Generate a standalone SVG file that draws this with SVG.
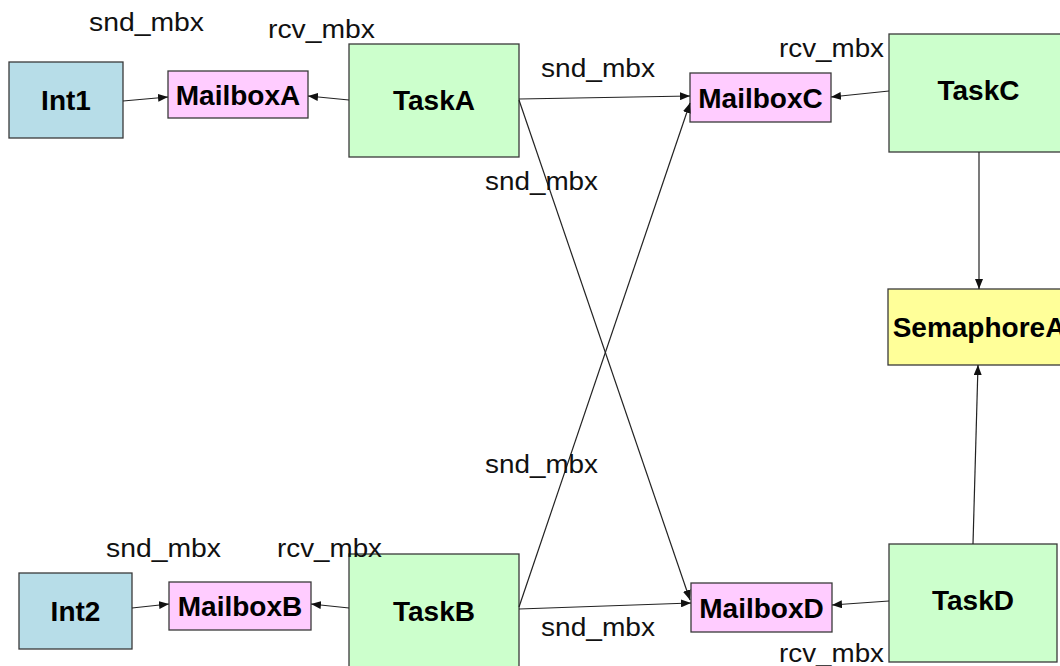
<svg xmlns="http://www.w3.org/2000/svg" width="1060" height="666" viewBox="0 0 1060 666">
  <style>
    .box { stroke: #3a3a3a; stroke-width: 1.3; }
    .int { fill: #b7dde8; }
    .mbx { fill: #ffccff; }
    .task { fill: #ccffcc; }
    .sem { fill: #ffff99; }
    .name { font-family: "Liberation Sans", Arial, sans-serif; font-weight: bold; font-size: 28px; fill: #000; text-anchor: middle; }
    .lbl { font-family: "Liberation Sans", Arial, sans-serif; font-size: 26px; fill: #111; }
    .conn line { stroke: #222; stroke-width: 1.2; marker-end: url(#arrow); }
  </style>
  <defs>
    <marker id="arrow" markerUnits="userSpaceOnUse" markerWidth="10" markerHeight="8" refX="10" refY="4" orient="auto">
      <path d="M0,0 L10,4 L0,8 z" fill="#111"/>
    </marker>
  </defs>
  <rect width="1060" height="666" fill="#ffffff"/>

  <!-- interrupt sources -->
  <g id="int1">
    <rect class="box int" x="9" y="62" width="114" height="76"/>
    <text class="name" x="66" y="110">Int1</text>
  </g>
  <g id="int2">
    <rect class="box int" x="19" y="573" width="113" height="76"/>
    <text class="name" x="75.5" y="621">Int2</text>
  </g>

  <!-- mailboxes -->
  <g id="mailboxA">
    <rect class="box mbx" x="168" y="71" width="140" height="47"/>
    <text class="name" x="238" y="104.5">MailboxA</text>
  </g>
  <g id="mailboxB">
    <rect class="box mbx" x="169" y="582" width="142" height="48"/>
    <text class="name" x="240" y="616">MailboxB</text>
  </g>
  <g id="mailboxC">
    <rect class="box mbx" x="690" y="73" width="141" height="49"/>
    <text class="name" x="760.5" y="107.5">MailboxC</text>
  </g>
  <g id="mailboxD">
    <rect class="box mbx" x="691" y="583" width="141" height="49"/>
    <text class="name" x="761.5" y="617.5">MailboxD</text>
  </g>

  <!-- tasks -->
  <g id="taskA">
    <rect class="box task" x="349" y="44" width="170" height="113"/>
    <text class="name" x="434" y="110">TaskA</text>
  </g>
  <g id="taskB">
    <rect class="box task" x="349" y="554" width="170" height="130"/>
    <text class="name" x="434" y="621">TaskB</text>
  </g>
  <g id="taskC">
    <rect class="box task" x="889" y="34" width="180" height="118"/>
    <text class="name" x="978.5" y="100">TaskC</text>
  </g>
  <g id="taskD">
    <rect class="box task" x="889" y="544" width="168" height="118"/>
    <text class="name" x="973" y="610">TaskD</text>
  </g>

  <!-- semaphore -->
  <g id="semaphoreA">
    <rect class="box sem" x="888" y="289" width="182" height="76"/>
    <text class="name" x="979" y="337">SemaphoreA</text>
  </g>

  <!-- connectors -->
  <g id="connectors" class="conn">
    <line x1="123" y1="101" x2="168" y2="97"/>
    <line x1="349" y1="100" x2="308" y2="96"/>
    <line x1="519" y1="99" x2="690" y2="96"/>
    <line x1="519" y1="100" x2="690" y2="600"/>
    <line x1="519" y1="607" x2="690" y2="103"/>
    <line x1="519" y1="609" x2="691" y2="603"/>
    <line x1="889" y1="91" x2="831" y2="97"/>
    <line x1="889" y1="601" x2="832" y2="605"/>
    <line x1="979" y1="152" x2="979" y2="289"/>
    <line x1="973" y1="544" x2="978" y2="365"/>
    <line x1="132" y1="608" x2="169" y2="604"/>
    <line x1="349" y1="608" x2="311" y2="604"/>
  </g>

  <!-- port labels -->
  <g id="labels">
    <text class="lbl" x="89" y="31" textLength="115" lengthAdjust="spacingAndGlyphs">snd_mbx</text>
    <text class="lbl" x="268" y="38" textLength="107" lengthAdjust="spacingAndGlyphs">rcv_mbx</text>
    <text class="lbl" x="541" y="77" textLength="114" lengthAdjust="spacingAndGlyphs">snd_mbx</text>
    <text class="lbl" x="779" y="57" textLength="105" lengthAdjust="spacingAndGlyphs">rcv_mbx</text>
    <text class="lbl" x="485" y="190" textLength="113" lengthAdjust="spacingAndGlyphs">snd_mbx</text>
    <text class="lbl" x="485" y="473" textLength="113" lengthAdjust="spacingAndGlyphs">snd_mbx</text>
    <text class="lbl" x="106" y="557" textLength="115" lengthAdjust="spacingAndGlyphs">snd_mbx</text>
    <text class="lbl" x="277" y="557" textLength="105" lengthAdjust="spacingAndGlyphs">rcv_mbx</text>
    <text class="lbl" x="541" y="636" textLength="114" lengthAdjust="spacingAndGlyphs">snd_mbx</text>
    <text class="lbl" x="779" y="662" textLength="105" lengthAdjust="spacingAndGlyphs">rcv_mbx</text>
  </g>
</svg>
